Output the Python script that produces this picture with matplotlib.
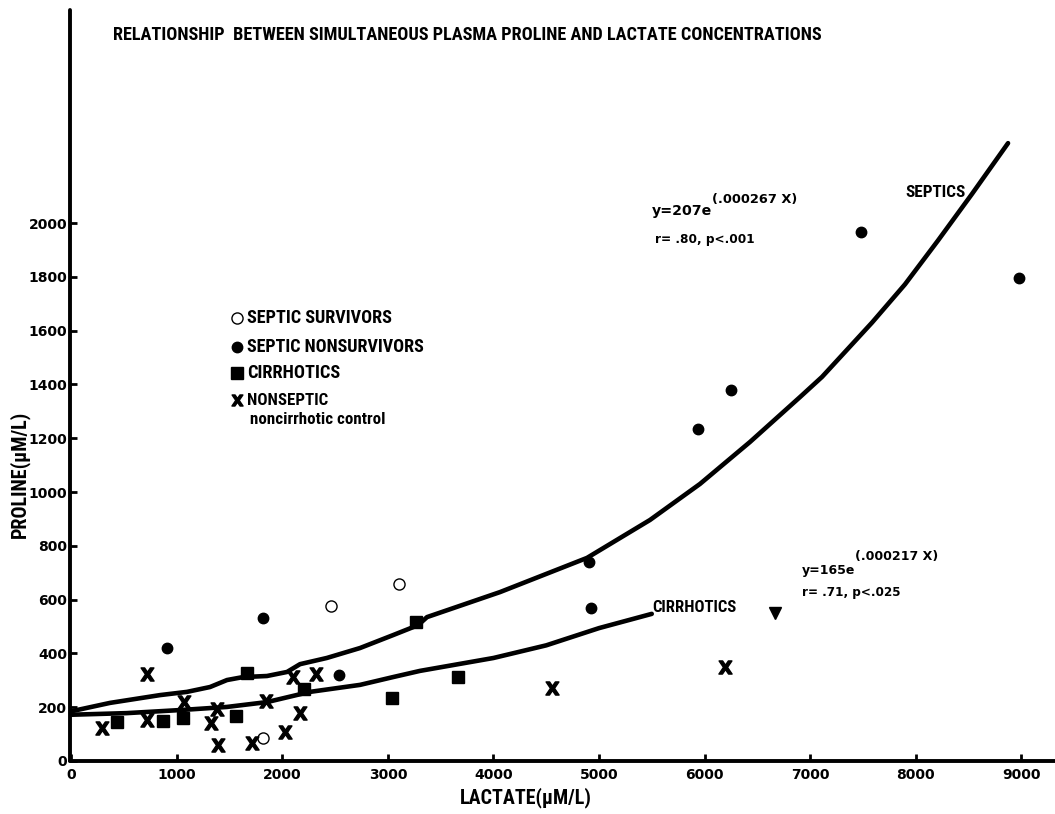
import matplotlib
matplotlib.use("Agg")
from matplotlib import pyplot as plt
from matplotlib import font_manager

# values
surv_x = [1815, 2460, 3104]
surv_y = [86, 576, 658]

nonsurv_x = [905, 1815, 2536, 4905, 4924, 5938, 6251, 7483, 8981]
nonsurv_y = [420, 532, 320, 740, 569, 1234, 1379, 1967, 1796]

cirr_x = [431, 869, 1057, 1559, 1663, 2204, 3038, 3265, 3663]
cirr_y = [145, 149, 160, 167, 327, 268, 234, 517, 312]

ctrl_x = [289, 716, 716, 1066, 1322, 1379, 1389, 1711, 1843, 2024, 2100, 2166, 2318, 4555, 6194]
ctrl_y = [123, 323, 152, 219, 141, 193, 59, 67, 223, 108, 312, 178, 323, 271, 349]

tri_x = [6668]
tri_y = [550]

# hand drawn fit curves, traced
septic_cx = [0, 365, 839, 1095, 1313, 1474, 1626, 1853, 2043, 2166, 2420, 2735, 3048, 3285,
             3370, 4062, 4886, 5483, 5957, 6431, 6905, 7114, 7588, 7900, 8213, 8535, 8877]
septic_cy = [185, 216, 245, 257, 275, 301, 312, 316, 331, 360, 383, 420, 468, 505,
             535, 628, 755, 896, 1030, 1186, 1353, 1428, 1630, 1772, 1935, 2108, 2297]

cirr_cx = [0, 524, 1057, 1474, 1853, 2261, 2735, 3048, 3303, 4000, 4500, 5000, 5500]
cirr_cy = [172, 178, 190, 201, 219, 257, 283, 312, 335, 383, 430, 494, 547]

xticks = list(range(0, 10000, 1000))
yticks = list(range(0, 2200, 200))

# pick a narrow bold face if one is there
have = {f.name for f in font_manager.fontManager.ttflist}
narrow = "DejaVu Sans"
for cand in ["Liberation Sans Narrow", "Roboto Condensed", "Open Sans Condensed",
             "Arial Narrow", "Liberation Sans"]:
    if cand in have:
        narrow = cand
        break

fig = plt.figure(figsize=(10.55, 8.14), dpi=100)
ax = fig.add_axes([70/1055, 53/814, 985/1055, 751/814])
ax.set_xlim(-14, 9322)
ax.set_ylim(0, 2792)

for s in ["top", "right"]:
    ax.spines[s].set_visible(False)
for s in ["left", "bottom"]:
    ax.spines[s].set_linewidth(2.8)
    ax.spines[s].set_capstyle("round")

ax.set_xticks(xticks)
ax.set_yticks(yticks)
ax.tick_params(direction="in", length=5, width=2, labelsize=10)
ax.tick_params(axis="x", pad=5)
ax.tick_params(axis="y", pad=2)
for lab in ax.get_xticklabels() + ax.get_yticklabels():
    lab.set_fontweight("bold")

# curves
ax.plot(septic_cx, septic_cy, color="black", lw=3.3, solid_capstyle="round", solid_joinstyle="round")
ax.plot(cirr_cx, cirr_cy, color="black", lw=3.3, solid_capstyle="round", solid_joinstyle="round")

# points
ax.plot(surv_x, surv_y, "o", ms=8, mfc="white", mec="black", mew=1.0, ls="none")
ax.plot(nonsurv_x, nonsurv_y, "o", ms=7.5, color="black", ls="none")
ax.plot(cirr_x, cirr_y, "s", ms=9, color="black", ls="none")
ax.plot(ctrl_x, ctrl_y, marker=r"$\mathbf{X}$", ms=9.5, color="black", ls="none")
ax.plot(tri_x, tri_y, "v", ms=8, color="black", ls="none")

# legend drawn by hand like the original
ax.plot([1569], [1647], "o", ms=8, mfc="white", mec="black", mew=1.0)
ax.plot([1569], [1539], "o", ms=7.5, color="black")
ax.plot([1569], [1442], "s", ms=9, color="black")
ax.plot([1569], [1342], marker=r"$\mathbf{X}$", ms=8, color="black")

fit = []  # (text, wanted width in px)
leg_kw = dict(family=narrow, weight="bold", fontsize=13, va="center", ha="left")
fit.append((ax.text(1663, 1647, "SEPTIC SURVIVORS", **leg_kw), 144))
fit.append((ax.text(1663, 1539, "SEPTIC NONSURVIVORS", **leg_kw), 176))
fit.append((ax.text(1663, 1442, "CIRRHOTICS", **leg_kw), 93))
fit.append((ax.text(1663, 1342, "NONSEPTIC", **leg_kw), 81))
fit.append((ax.text(1692, 1268, "noncirrhotic control", family=narrow, weight="bold",
                    fontsize=11, va="center", ha="left"), 134))

# curve labels and equations
fit.append((ax.text(7900, 2115, "SEPTICS", family=narrow, weight="bold", fontsize=12,
                    va="center"), 60))
fit.append((ax.text(5502, 572, "CIRRHOTICS", family=narrow, weight="bold", fontsize=12,
                    va="center"), 84))

eq_kw = dict(weight="bold", va="center", ha="left")
fit.append((ax.text(5502, 2045, "y=207e", fontsize=9.5, **eq_kw), 60))
fit.append((ax.text(6071, 2089, "(.000267 X)", fontsize=9.5, **eq_kw), 86))
fit.append((ax.text(5530, 1940, "r= .80, p<.001", fontsize=9, **eq_kw), 100))
fit.append((ax.text(6925, 710, "y=165e", fontsize=9.5, **eq_kw), 53))
fit.append((ax.text(7427, 762, "(.000217 X)", fontsize=9.5, **eq_kw), 84))
fit.append((ax.text(6925, 628, "r= .71, p<.025", fontsize=9, **eq_kw), 99))

fit.append((fig.text(113/1055, 1 - 35/814,
                     "RELATIONSHIP  BETWEEN SIMULTANEOUS PLASMA PROLINE AND LACTATE CONCENTRATIONS",
                     family=narrow, weight="bold", fontsize=12.5, va="center", ha="left"), 709))
fit.append((fig.text(526/1055, 1 - 798/814, "LACTATE(\u03bcM/L)", family=narrow, weight="bold",
                     fontsize=14, ha="center", va="center"), 132))
ylab = fig.text(20/1055, 1 - 474/814, "PROLINE(\u03bcM/L)", family=narrow, weight="bold",
                fontsize=14, ha="center", va="center", rotation=90)

# squeeze the lettering to the widths of the original
fig.canvas.draw()
r = fig.canvas.get_renderer()
for t, w in fit:
    bb = t.get_window_extent(r)
    t.set_fontsize(t.get_fontsize() * w / bb.width)
bb = ylab.get_window_extent(r)
ylab.set_fontsize(ylab.get_fontsize() * 128 / bb.height)

fig.savefig("out.png", dpi=100)
